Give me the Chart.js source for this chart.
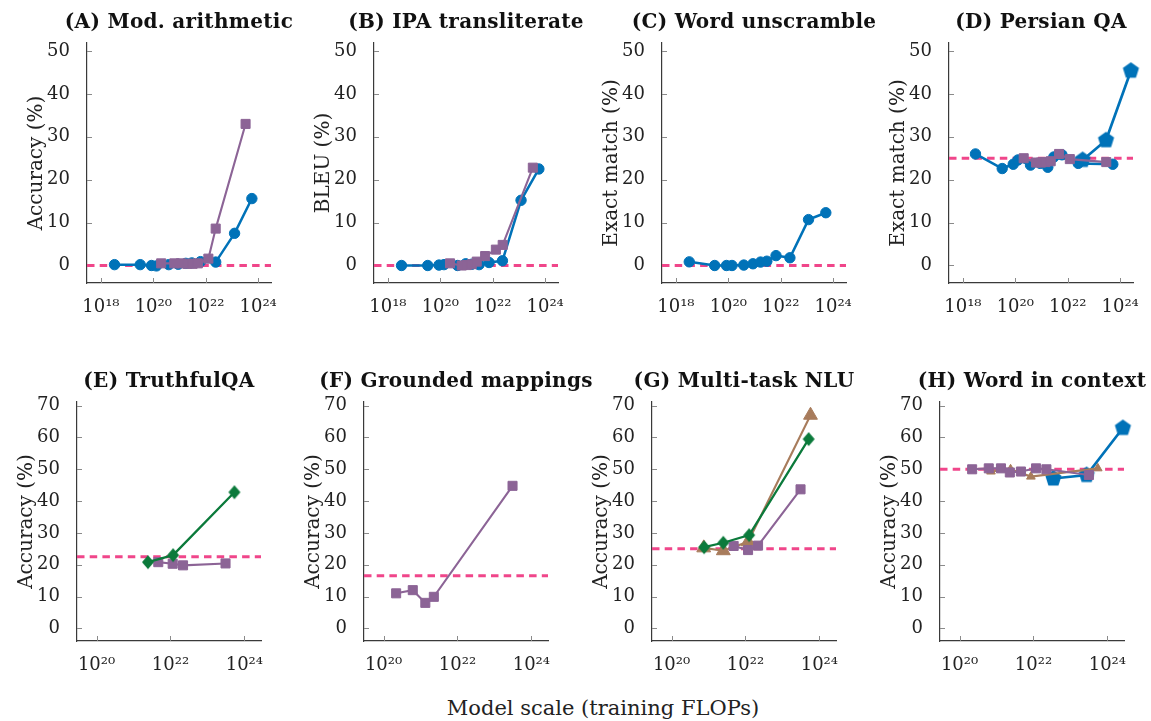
<!DOCTYPE html>
<html lang="en">
<head>
<meta charset="UTF-8">
<title>Emergent abilities vs. model scale</title>
<script src="https://cdn.jsdelivr.net/npm/chart.js"></script>
<style>
  body {
    margin: 0;
    background: #fff;
    width: 1151px;
    height: 721px;
    position: relative;
    overflow: hidden;
    font-family: "DejaVu Serif", serif;
  }
  canvas { position: absolute; }
  .ptitle {
    position: absolute;
    transform: translateX(-50%);
    font-size: 20px;
    font-weight: bold;
    letter-spacing: 0.3px;
    line-height: 24px;
    color: #111;
    white-space: nowrap;
  }
  #xlabel {
    position: absolute;
    left: 603px;
    top: 695px;
    transform: translateX(-50%);
    font-size: 21px;
    line-height: 26px;
    color: #222;
    white-space: nowrap;
  }
</style>
</head>
<body>

<canvas id="pA" width="289" height="320"></canvas>
<canvas id="pB" width="289" height="320"></canvas>
<canvas id="pC" width="289" height="320"></canvas>
<canvas id="pD" width="289" height="320"></canvas>
<canvas id="pE" width="289" height="319"></canvas>
<canvas id="pF" width="289" height="319"></canvas>
<canvas id="pG" width="289" height="319"></canvas>
<canvas id="pH" width="289" height="319"></canvas>
<div id="xlabel">Model scale (training FLOPs)</div>

<script>
// x = log10(training FLOPs), y = score in %
const topTicksX = [18, 20, 22, 24];
const topTicksY = [0, 10, 20, 30, 40, 50];
const botTicksX = [20, 22, 24];
const botTicksY = [0, 10, 20, 30, 40, 50, 60, 70];

// (A) Mod. arithmetic
const aLamdaX = [18.52, 19.5, 19.93, 20.12, 20.59, 20.95, 21.24, 21.47, 21.8, 22.38, 23.1, 23.76];
const aLamdaY = [0.2, 0.2, 0, -0.1, 0.2, 0.3, 0.5, 0.6, 0.9, 0.8, 7.5, 15.6];
const aGpt3X = [20.3, 20.8, 21.05, 21.3, 21.5, 21.7, 22.1, 22.38, 23.52];
const aGpt3Y = [0.5, 0.5, 0.5, 0.4, 0.4, 0.5, 1.6, 8.6, 33.0];
const aRandom = 0;

// (B) IPA transliterate
const bLamdaX = [18.52, 19.52, 19.95, 20.14, 20.66, 20.97, 21.2, 21.48, 21.86, 22.37, 23.08, 23.76];
const bLamdaY = [0, 0, 0.1, 0.2, 0, 0.4, 0.3, 0.2, 0.7, 1.1, 15.2, 22.5];
const bGpt3X = [20.37, 20.82, 21.01, 21.2, 21.39, 21.71, 22.12, 22.38, 23.53];
const bGpt3Y = [0.5, 0, 0.1, 0.3, 0.9, 2.2, 3.7, 4.8, 22.8];
const bRandom = 0;

// (C) Word unscramble
const cLamdaX = [18.51, 19.48, 19.93, 20.14, 20.59, 20.94, 21.23, 21.47, 21.82, 22.35, 23.06, 23.72];
const cLamdaY = [0.85, 0, 0, 0, 0.1, 0.4, 0.8, 1.0, 2.3, 1.8, 10.7, 12.3];
const cRandom = 0;

// (D) Persian QA
const dLamdaX = [18.48, 19.5, 19.92, 20.1, 20.58, 20.95, 21.24, 21.47, 21.78, 22.4, 23.72];
const dLamdaY = [26.0, 22.6, 23.6, 24.6, 23.4, 23.8, 22.9, 25.3, 25.8, 23.8, 23.6];
const dGpt3X = [20.32, 20.79, 20.98, 21.15, 21.35, 21.67, 22.08, 23.47];
const dGpt3Y = [25.0, 24.0, 24.0, 24.1, 24.3, 26.0, 24.8, 24.1];
const dPalmX = [22.57, 23.46, 24.41];
const dPalmY = [24.6, 29.2, 45.4];
const dRandom = 25;

// (E) TruthfulQA
const eChinX = [21.39, 22.07, 23.73];
const eChinY = [20.8, 23.0, 42.8];
const eGpt3X = [21.67, 22.06, 22.34, 23.49];
const eGpt3Y = [20.8, 20.3, 19.8, 20.4];
const eRandom = 22.5;

// (F) Grounded mappings
const fGpt3X = [20.34, 20.79, 21.13, 21.36, 23.49];
const fGpt3Y = [11.0, 12.0, 8.0, 9.9, 44.8];
const fRandom = 16.5;

// (G) Multi-task NLU
const gChinX = [20.88, 21.4, 22.1, 23.71];
const gChinY = [25.5, 26.9, 29.3, 59.5];
const gGopherX = [20.87, 21.4, 22.07, 23.76];
const gGopherY = [25.3, 24.4, 27.2, 67.0];
const gGpt3X = [21.68, 22.07, 22.34, 23.49];
const gGpt3Y = [25.9, 24.6, 26.0, 43.7];
const gRandom = 25;

// (H) Word in context
const hGpt3X = [20.34, 20.79, 21.12, 21.36, 21.66, 22.07, 22.35, 23.5];
const hGpt3Y = [50.0, 50.3, 50.3, 49.0, 49.3, 50.3, 50.0, 48.2];
const hGopherX = [20.85, 21.38, 21.93, 23.74];
const hGopherY = [49.3, 50.0, 47.7, 50.3];
const hPalmX = [22.54, 23.44, 24.42];
const hPalmY = [47.1, 48.2, 63.0];
const hRandom = 50;

const BLUE = '#0072B8', PURPLE = '#8C6496', GREEN = '#0B7A3B', BROWN = '#A87C5C', PINK = '#F0468A';
const AXIS = '#3a3a3a';
const SERIF = "'DejaVu Serif', serif";
Chart.defaults.font.family = SERIF;
Chart.defaults.color = '#222';

function pentagon(R, color) {
  const c = document.createElement('canvas');
  const s = Math.ceil(2 * R + 2);
  c.width = s; c.height = s;
  const g = c.getContext('2d');
  g.fillStyle = color;
  g.beginPath();
  for (let i = 0; i < 5; i++) {
    const a = -Math.PI / 2 + i * 2 * Math.PI / 5;
    const px = s / 2 + R * Math.cos(a), py = s / 2 + R * Math.sin(a);
    if (i === 0) g.moveTo(px, py); else g.lineTo(px, py);
  }
  g.closePath();
  g.fill();
  return c;
}

function diamond(hw, hh, color) {
  const c = document.createElement('canvas');
  c.width = Math.ceil(2 * hw + 2); c.height = Math.ceil(2 * hh + 2);
  const g = c.getContext('2d');
  const cx = c.width / 2, cy = c.height / 2;
  g.fillStyle = color;
  g.beginPath();
  g.moveTo(cx, cy - hh); g.lineTo(cx + hw, cy); g.lineTo(cx, cy + hh); g.lineTo(cx - hw, cy);
  g.closePath();
  g.fill();
  return c;
}

const pentImg = pentagon(8.5, BLUE);
const diamImg = diamond(6, 7, GREEN);

const styles = {
  'LaMDA': { color: BLUE, pointStyle: 'circle', pointRadius: 5.2, borderWidth: 2.5 },
  'GPT-3': { color: PURPLE, pointStyle: 'rect', pointRadius: 6.4, borderWidth: 2.1 },
  'Gopher': { color: BROWN, pointStyle: 'triangle', pointRadius: 5, borderWidth: 2.1 },
  'Chinchilla': { color: GREEN, pointStyle: diamImg, pointRadius: 6, borderWidth: 2.3 },
  'PaLM': { color: BLUE, pointStyle: pentImg, pointRadius: 8, borderWidth: 2.7 }
};

function model(name, xs, ys, radius) {
  const st = styles[name];
  return {
    label: name,
    data: xs.map((x, i) => ({ x: x, y: ys[i] })),
    showLine: true,
    tension: 0,
    clip: false,
    borderColor: st.color,
    backgroundColor: st.color,
    borderWidth: st.borderWidth,
    pointStyle: st.pointStyle,
    pointRadius: radius || st.pointRadius,
    pointBackgroundColor: st.color,
    pointBorderColor: st.color,
    pointBorderWidth: 1
  };
}

function random(level, xRange) {
  return {
    label: 'Random',
    data: [{ x: xRange[0], y: level }, { x: xRange[1], y: level }],
    showLine: true,
    borderColor: PINK,
    borderWidth: 3,
    borderDash: [7.5, 5.2],
    pointRadius: 0,
    clip: false
  };
}

const SUP = '⁰¹²³⁴⁵⁶⁷⁸⁹';
function pow10(v) {
  return '10' + String(v).split('').map(d => SUP[+d]).join('');
}

const innerTicks = {
  id: 'innerTicks',
  beforeDatasetsDraw(chart) {
    const { ctx, chartArea: a, scales: { x, y } } = chart;
    ctx.save();
    ctx.strokeStyle = '#8a8a8a';
    ctx.lineWidth = 1;
    ctx.beginPath();
    y.ticks.forEach(t => {
      const py = Math.round(y.getPixelForValue(t.value)) + 0.5;
      ctx.moveTo(a.left, py); ctx.lineTo(a.left + 5, py);
    });
    x.ticks.forEach(t => {
      const px = Math.round(x.getPixelForValue(t.value)) + 0.5;
      ctx.moveTo(px, a.bottom); ctx.lineTo(px, a.bottom - 5);
    });
    ctx.stroke();
    ctx.restore();
  }
};

const PLOT_W = 184;
const topRow = { top: 3, xRange: [17.47, 24.49], yRange: [-4.08, 51.86], ticksX: topTicksX, ticksY: topTicksY };
const botRow = { top: 362, xRange: [19.47, 24.45], yRange: [-3.99, 71.16], ticksX: botTicksX, ticksY: botTicksY };

function panel(id, left, row, title, yTitle, datasets) {
  const cv = document.getElementById(id);
  cv.style.left = left + 'px';
  cv.style.top = row.top + 'px';

  const t = document.createElement('div');
  t.className = 'ptitle';
  t.textContent = title;
  t.style.left = (left + 85 + PLOT_W / 2) + 'px';
  t.style.top = (row.top + 6) + 'px';
  document.body.appendChild(t);

  new Chart(cv, {
    type: 'scatter',
    data: { datasets: datasets },
    options: {
      responsive: false,
      animation: false,
      events: [],
      layout: { padding: { left: 0, right: 20, top: 40, bottom: 0 } },
      plugins: {
        legend: { display: false },
        tooltip: { enabled: false }
      },
      scales: {
        x: {
          type: 'linear',
          min: row.xRange[0],
          max: row.xRange[1],
          grid: { display: false },
          border: { display: true, color: AXIS, width: 1.2 },
          afterBuildTicks: s => { s.ticks = row.ticksX.map(v => ({ value: v })); },
          afterFit: s => { s.height = 40; },
          ticks: {
            callback: v => pow10(v),
            font: { size: 18 },
            color: '#222',
            padding: 6,
            maxRotation: 0,
            autoSkip: false
          }
        },
        y: {
          min: row.yRange[0],
          max: row.yRange[1],
          grid: { display: false },
          border: { display: true, color: AXIS, width: 1.2 },
          afterBuildTicks: s => { s.ticks = row.ticksY.map(v => ({ value: v })); },
          afterFit: s => { s.width = 85; },
          ticks: { font: { size: 18 }, color: '#222', padding: 9 },
          title: {
            display: true,
            text: yTitle,
            color: '#222',
            font: { size: 20, lineHeight: 1.2 },
            padding: { top: 23, bottom: 0 }
          }
        }
      }
    },
    plugins: [innerTicks]
  });
}

panel('pA', 2, topRow, '(A) Mod. arithmetic', 'Accuracy (%)', [
  model('GPT-3', aGpt3X, aGpt3Y),
  model('LaMDA', aLamdaX, aLamdaY),
  random(aRandom, topRow.xRange)
]);
panel('pB', 289, topRow, '(B) IPA transliterate', 'BLEU (%)', [
  model('GPT-3', bGpt3X, bGpt3Y),
  model('LaMDA', bLamdaX, bLamdaY),
  random(bRandom, topRow.xRange)
]);
panel('pC', 577, topRow, '(C) Word unscramble', 'Exact match (%)', [
  model('LaMDA', cLamdaX, cLamdaY),
  random(cRandom, topRow.xRange)
]);
panel('pD', 864, topRow, '(D) Persian QA', 'Exact match (%)', [
  model('GPT-3', dGpt3X, dGpt3Y),
  model('LaMDA', dLamdaX, dLamdaY),
  model('PaLM', dPalmX, dPalmY),
  random(dRandom, topRow.xRange)
]);
panel('pE', -8, botRow, '(E) TruthfulQA', 'Accuracy (%)', [
  model('Chinchilla', eChinX, eChinY),
  model('GPT-3', eGpt3X, eGpt3Y),
  random(eRandom, botRow.xRange)
]);
panel('pF', 279, botRow, '(F) Grounded mappings', 'Accuracy (%)', [
  model('GPT-3', fGpt3X, fGpt3Y),
  random(fRandom, botRow.xRange)
]);
panel('pG', 567, botRow, '(G) Multi-task NLU', 'Accuracy (%)', [
  model('Chinchilla', gChinX, gChinY),
  model('GPT-3', gGpt3X, gGpt3Y),
  model('Gopher', gGopherX, gGopherY, 8),
  random(gRandom, botRow.xRange)
]);
panel('pH', 855, botRow, '(H) Word in context', 'Accuracy (%)', [
  model('GPT-3', hGpt3X, hGpt3Y),
  model('Gopher', hGopherX, hGopherY, 5),
  model('PaLM', hPalmX, hPalmY),
  random(hRandom, botRow.xRange)
]);
</script>
</body>
</html>
